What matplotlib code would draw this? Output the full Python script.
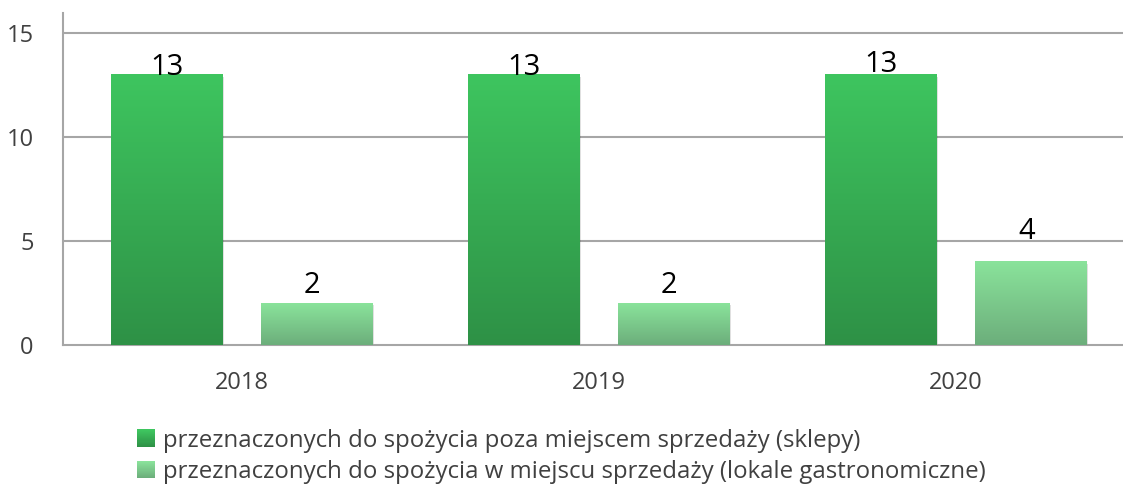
import numpy as np
import matplotlib
matplotlib.use("Agg")
import matplotlib.pyplot as plt
import matplotlib.patheffects as pe
from matplotlib.colors import LinearSegmentedColormap, to_rgb
from matplotlib.legend_handler import HandlerBase
from matplotlib.patches import Rectangle

plt.rcParams["font.family"] = ["Open Sans", "DejaVu Sans"]

years = ["2018", "2019", "2020"]
sklepy = [13, 13, 13]
gastro = [2, 2, 4]
series_names = [
    "przeznaczonych do spożycia poza miejscem sprzedaży (sklepy)",
    "przeznaczonych do spożycia w miejscu sprzedaży (lokale gastronomiczne)",
]
y_ticks = [0, 5, 10, 15]

# gradient (top, bottom) per series
DARK = ("#3ec55f", "#2e9146")
LIGHT = ("#8ae39b", "#6cae7b")
GRID = "#a6a6a6"
TXT = "#404040"

BAR_W = 0.311
OFFSET = 0.21
# vertical lift of value labels above each bar top (points)
lift_dark = [5, 5, 7.5]
lift_light = [13, 13, 22]


def gradient_fill(ax, patch, top, bottom):
    x0, y0 = patch.get_x(), patch.get_y()
    w, h = patch.get_width(), patch.get_height()
    cmap = LinearSegmentedColormap.from_list("g", [bottom, top])
    grad = np.linspace(0, 1, 256).reshape(-1, 1)
    ax.imshow(grad, cmap=cmap, extent=(x0, x0 + w, y0, y0 + h),
              origin="lower", aspect="auto", zorder=3, interpolation="bilinear")


class GradientHandler(HandlerBase):
    def __init__(self, top, bottom, steps=16):
        super().__init__()
        self.top, self.bottom, self.steps = to_rgb(top), to_rgb(bottom), steps

    def create_artists(self, legend, orig_handle, xdescent, ydescent,
                       width, height, fontsize, trans):
        arts = []
        for i in range(self.steps):
            t = i / (self.steps - 1)
            c = tuple(b + (a - b) * t for a, b in zip(self.top, self.bottom))
            r = Rectangle((-xdescent, -ydescent + height * i / self.steps),
                          width, height / self.steps * 1.05,
                          facecolor=c, edgecolor="none", transform=trans)
            arts.append(r)
        return arts


fig = plt.figure(figsize=(11.23, 4.88), dpi=100)
ax = fig.add_axes([63 / 1123, 1 - 345 / 488, 1071 / 1123, 332 / 488])

x = np.arange(len(years))
shadow = [pe.SimplePatchShadow(offset=(1.5, -1.5), shadow_rgbFace="#000000", alpha=0.12),
          pe.Normal()]
b1 = ax.bar(x - OFFSET, sklepy, BAR_W, color=DARK[1], zorder=2, path_effects=shadow)
b2 = ax.bar(x + OFFSET, gastro, BAR_W, color=LIGHT[1], zorder=2, path_effects=shadow)
for p in b1:
    gradient_fill(ax, p, *DARK)
for p in b2:
    gradient_fill(ax, p, *LIGHT)

for p, v, dy in zip(b1, sklepy, lift_dark):
    ax.annotate(str(v), (p.get_x() + p.get_width() / 2, v), xytext=(0, dy),
                textcoords="offset points", ha="center", va="center",
                fontsize=21, color="black", zorder=5)
for p, v, dy in zip(b2, gastro, lift_light):
    ax.annotate(str(v), (p.get_x() + p.get_width() / 2, v), xytext=(-3, dy),
                textcoords="offset points", ha="center", va="center",
                fontsize=21, color="black", zorder=5)

ax.set_xlim(-0.5, len(years) - 0.5)
ax.set_ylim(0, 15.96)
ax.set_yticks(y_ticks)
ax.set_xticks(x)
ax.set_xticklabels(years)
ax.tick_params(axis="both", length=0, labelsize=17, colors=TXT)
ax.tick_params(axis="y", pad=21)
ax.tick_params(axis="x", pad=19)
for t in y_ticks[1:]:
    ax.axhline(t, color=GRID, lw=1.5, zorder=1)
for s in ("top", "right"):
    ax.spines[s].set_visible(False)
ax.spines["left"].set_color(GRID)
ax.spines["left"].set_linewidth(1.5)
ax.spines["bottom"].set_color(GRID)
ax.spines["bottom"].set_linewidth(1.5)

h1 = Rectangle((0, 0), 1, 1)
h2 = Rectangle((0, 0), 1, 1)
fig.legend([h1, h2], series_names, loc="upper left",
           bbox_to_anchor=(127 / 1123, 1 - 419 / 488), frameon=False,
           fontsize=17.3, labelcolor=TXT, handlelength=0.75, handleheight=0.75,
           handletextpad=0.35, labelspacing=0.3, borderaxespad=0,
           handler_map={h1: GradientHandler(*DARK), h2: GradientHandler(*LIGHT)})

fig.savefig("out.png", dpi=100)
